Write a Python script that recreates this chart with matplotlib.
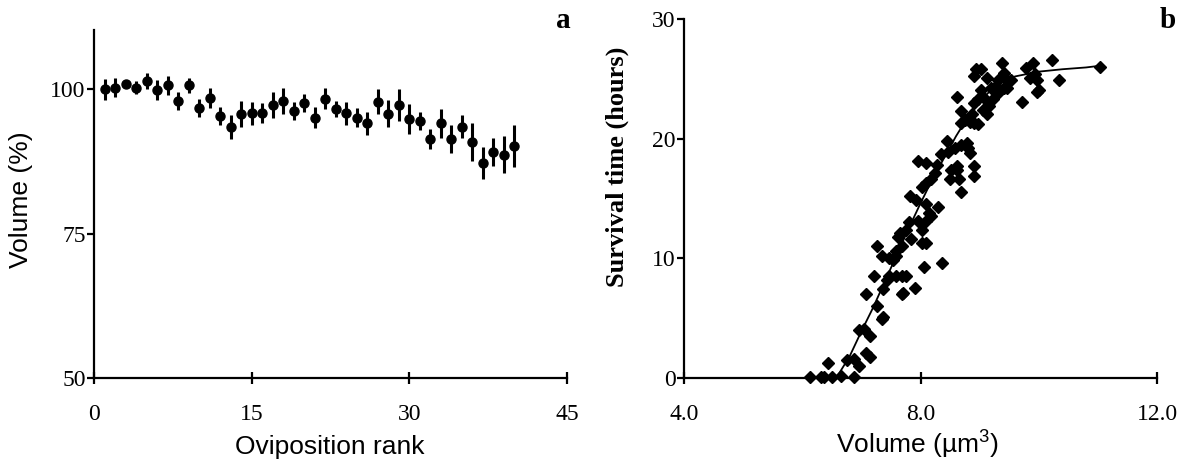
import matplotlib
matplotlib.use("Agg")
import matplotlib.pyplot as plt

# panel a: relative egg volume by oviposition rank
rank = list(range(1, 41))
volume_pct = [100.0, 100.3, 101.0, 100.3, 101.5, 99.9, 100.7, 98.0, 100.7, 96.8,
              98.5, 95.4, 93.5, 95.7, 95.9, 95.9, 97.3, 98.0, 96.3, 97.6,
              95.1, 98.4, 96.6, 95.9, 95.1, 94.1, 97.9, 95.8, 97.3, 94.9,
              94.5, 91.4, 94.1, 91.4, 93.5, 90.9, 87.2, 89.2, 88.7, 90.2]
volume_err = [1.8, 1.6, 0.6, 1.1, 1.4, 1.8, 1.6, 1.5, 1.3, 1.5,
              1.7, 1.6, 2.1, 2.3, 2.0, 1.8, 2.2, 2.2, 1.6, 1.6,
              1.8, 1.8, 1.4, 2.0, 1.6, 2.0, 2.2, 2.3, 2.8, 2.6,
              1.5, 1.8, 2.5, 2.5, 2.0, 3.3, 2.8, 2.4, 3.2, 3.7]

# panel b: survival time vs volume
vol = [6.13, 6.31, 6.36, 6.51, 6.65, 6.43, 6.87, 6.76, 6.87, 6.96,
       7.07, 7.14, 7.15, 6.96, 7.05, 7.07, 7.27, 7.34, 7.37, 7.22,
       7.37, 7.43, 7.26, 7.46, 7.53, 7.59, 7.46, 7.59, 7.68, 7.75,
       7.71, 7.68, 7.90, 7.62, 7.66, 7.75, 7.84, 8.03, 8.09, 8.06,
       8.37, 7.68, 7.59, 7.83, 7.93, 7.95, 8.03, 8.09, 8.18, 8.15,
       8.29, 8.09, 8.03, 8.09, 8.18, 8.25, 7.95, 8.09, 8.28, 8.34,
       8.44, 8.47, 8.52, 8.62, 8.50, 8.65, 8.69, 8.62, 8.59, 8.91,
       8.91, 8.84, 8.69, 8.78, 8.81, 8.62, 8.69, 8.69, 8.75, 8.84,
       8.91, 8.97, 8.87, 8.91, 8.97, 9.06, 9.09, 9.13, 9.16, 9.22,
       9.03, 9.19, 8.91, 9.03, 8.94, 9.13, 9.28, 9.31, 9.38, 9.41,
       9.47, 9.47, 9.53, 9.41, 9.31, 9.72, 9.78, 9.91, 9.85, 9.94,
       9.97, 10.0, 9.97, 10.22, 10.35, 11.04, 7.34, 7.80]
surv = [0.1, 0.1, 0.1, 0.1, 0.2, 1.25, 0.1, 1.5, 1.6, 1.0,
        2.1, 1.75, 3.5, 4.0, 4.1, 7.0, 6.0, 4.9, 5.1, 8.5,
        7.4, 8.2, 11.0, 10.0, 9.9, 10.6, 8.5, 8.5, 8.5, 8.5,
        7.1, 7.0, 7.5, 11.8, 12.1, 12.4, 11.6, 11.3, 11.3, 9.3,
        9.6, 11.0, 10.2, 15.2, 14.9, 13.1, 12.4, 13.1, 13.5, 13.8,
        14.3, 14.5, 16.0, 16.3, 16.6, 17.1, 18.1, 18.0, 17.8, 18.7,
        19.8, 18.9, 17.4, 17.4, 16.6, 16.6, 15.5, 17.7, 19.2, 17.7,
        16.9, 18.8, 19.5, 19.6, 19.2, 23.5, 21.3, 22.3, 21.6, 21.4,
        21.3, 21.2, 22.1, 23.0, 23.3, 22.4, 23.3, 22.1, 22.7, 23.3,
        24.1, 24.2, 25.2, 25.8, 25.8, 25.1, 24.4, 24.9, 26.3, 25.5,
        24.9, 24.2, 24.9, 24.2, 23.8, 23.1, 25.9, 26.3, 25.1, 25.4,
        24.9, 24.1, 23.9, 26.6, 24.9, 26.0, 10.2, 13.0]

# fitted curve
fit_vol = [6.6, 6.8, 7.0, 7.2, 7.4, 7.6, 7.8, 8.0, 8.2, 8.4, 8.6,
           8.8, 9.0, 9.2, 9.4, 9.6, 9.8, 10.0, 10.4, 10.8, 11.05]
fit_surv = [0.2, 1.8, 3.9, 5.9, 8.1, 10.3, 12.5, 14.6, 16.6, 18.4, 20.2,
            21.8, 23.1, 24.1, 24.8, 25.2, 25.4, 25.6, 25.8, 25.95, 26.1]

serif = "Liberation Serif"
sans = "Liberation Sans"
plt.rcParams["mathtext.fontset"] = "custom"
plt.rcParams["mathtext.rm"] = sans
plt.rcParams["mathtext.it"] = sans + ":italic"

fig = plt.figure(figsize=(11.8, 4.71), dpi=100)
ax1 = fig.add_axes([0.0797, 0.1975, 0.4008, 0.7389])
ax2 = fig.add_axes([0.5797, 0.1975, 0.4008, 0.7622])

for ax in (ax1, ax2):
    for side in ("top", "right"):
        ax.spines[side].set_visible(False)
    for side in ("left", "bottom"):
        ax.spines[side].set_linewidth(1.6)
    ax.tick_params(axis="y", direction="out", length=5, width=1.6, pad=1,
                   labelsize=17)
    ax.tick_params(axis="x", direction="inout", length=9, width=1.6, pad=14,
                   labelsize=17)

# panel a
ax1.errorbar(rank, volume_pct, yerr=volume_err, fmt="o", color="black",
             markersize=6.5, elinewidth=2.2, capsize=0, clip_on=False)
ax1.set_xlim(0, 45)
ax1.set_ylim(50, 110.3)
ax1.set_xticks([0, 15, 30, 45])
ax1.set_yticks([50, 75, 100])
for lab in ax1.get_xticklabels() + ax1.get_yticklabels():
    lab.set_family(serif)

# panel b
ax2.plot(vol, surv, "D", color="black", markersize=6.6, clip_on=False)
ax2.plot(fit_vol, fit_surv, color="black", linewidth=1.3)
ax2.set_xlim(4, 12)
ax2.set_ylim(0, 30)
ax2.set_xticks([4, 8, 12])
ax2.set_xticklabels(["4.0", "8.0", "12.0"])
ax2.set_yticks([0, 10, 20, 30])
for lab in ax2.get_xticklabels() + ax2.get_yticklabels():
    lab.set_family(serif)

# axis titles and panel letters
fig.text(0.018, 1 - 200 / 471, "Volume (%)", rotation=90, ha="center",
         va="center", family=sans, fontsize=19)
fig.text(330 / 1180, 1 - 447 / 471, "Oviposition rank", ha="center",
         va="center", family=sans, fontsize=19)
fig.text(617 / 1180, 1 - 167 / 471, "Survival time (hours)", rotation=90,
         ha="center", va="center", family=serif, fontsize=19,
         fontweight="bold")
fig.text(918 / 1180, 1 - 445 / 471, "Volume (\u00b5m$^\\mathrm{3}$)",
         ha="center", va="center", family=sans, fontsize=19)
fig.text(563 / 1180, 1 - 20 / 471, "a", ha="center", va="center",
         family=serif, fontsize=21, fontweight="bold")
fig.text(1168 / 1180, 1 - 20 / 471, "b", ha="center", va="center",
         family=serif, fontsize=21, fontweight="bold")

fig.savefig("out.png", dpi=100)
